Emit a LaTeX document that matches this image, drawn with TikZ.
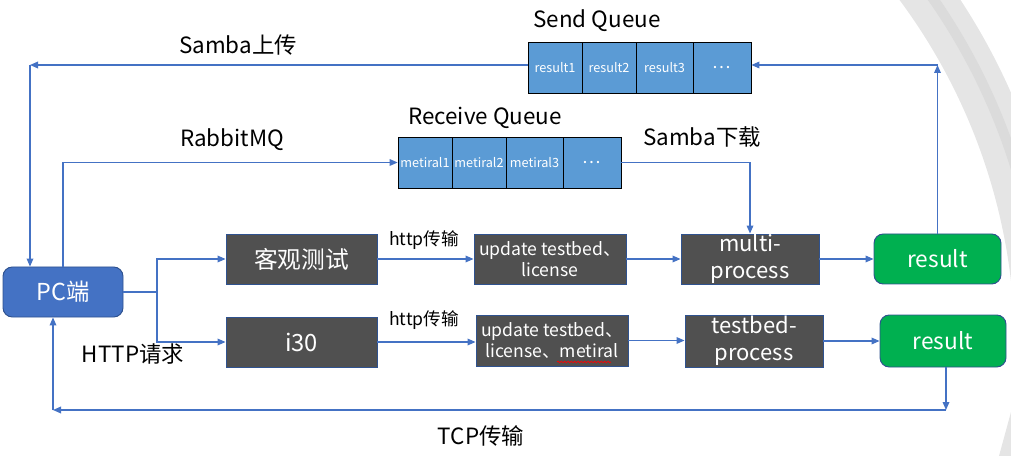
\documentclass[tikz,border=0pt]{standalone}
\usepackage{fontspec}
\setmainfont{Noto Sans CJK SC}
\usetikzlibrary{arrows.meta,decorations.pathmorphing}
\definecolor{qblue}{HTML}{5B9BD5}
\definecolor{pcblue}{HTML}{4472C4}
\definecolor{lineblue}{HTML}{4472C4}
\definecolor{edgeblue}{HTML}{2F528F}
\definecolor{darkfill}{HTML}{505050}
\definecolor{okgreen}{HTML}{00B050}
\begin{document}
\begin{tikzpicture}[x=0.75pt,y=-0.75pt,
  conn/.style={draw=lineblue, line width=0.9pt, -{Triangle[length=6pt,width=5pt]}},
  plain/.style={draw=lineblue, line width=0.9pt},
  qcell/.style={draw=black, line width=0.6pt, fill=qblue, text=white, inner sep=0pt,
    minimum height=38.25pt, font=\fontsize{9.5}{10}\selectfont},
  darkbox/.style={draw=edgeblue, line width=0.7pt, fill=darkfill, text=white, inner sep=0pt,
    align=center, minimum height=37.5pt},
  greenbox/.style={draw=edgeblue, line width=0.7pt, fill=okgreen, text=white, rounded corners=7pt,
    inner sep=0pt, minimum height=37.5pt, font=\fontsize{17}{19}\selectfont},
  lbl/.style={text=black, inner sep=0pt},
  big/.style={font=\fontsize{16.8}{18}\selectfont},
]
\useasboundingbox (0,0) rectangle (1011,456);
% background arcs
\begin{scope}
  \clip (0,0) rectangle (1011,456);
  \draw[black!10, line width=37.5pt] (427,350) circle [radius=459.75pt];
  \draw[black!14, line width=7.5pt] (427,350) circle [radius=462pt];
  \fill[black!10] (1011,412) -- (1011,456) -- (999,456) -- cycle;
\end{scope}

% queues
\node[qcell, minimum width=40.5pt] (sq1) at (555,67.5) {result1};
\node[qcell, minimum width=40.5pt] (sq2) at (609,67.5) {result2};
\node[qcell, minimum width=42.75pt] (sq3) at (664.5,67.5) {result3};
\node[qcell, minimum width=43.5pt] (sq4) at (722,67.5) {\fontsize{13}{13}\selectfont …};
\node[lbl, big] (sqt) at (597,21) {Send Queue};

\node[qcell, minimum width=40.5pt] (rq1) at (425,162.5) {metiral1};
\node[qcell, minimum width=40.5pt] (rq2) at (479,162.5) {metiral2};
\node[qcell, minimum width=42.75pt] (rq3) at (534.5,162.5) {metiral3};
\node[qcell, minimum width=43.5pt] (rq4) at (592,162.5) {\fontsize{13}{13}\selectfont …};
\node[lbl, big] (rqt) at (485,118) {Receive Queue};

% PC
\node[draw=edgeblue, line width=0.7pt, fill=pcblue, text=white, rounded corners=7pt, inner sep=0pt,
  minimum width=90pt, minimum height=37.5pt, font=\fontsize{17.5}{19}\selectfont] (pc) at (63,292) {PC端};

% boxes
\node[darkbox, minimum width=113.25pt, font=\fontsize{17.8}{19}\selectfont] (obj) at (301.5,259) {客观测试};
\node[darkbox, minimum width=113.25pt, font=\fontsize{17.8}{19}\selectfont] (i30) at (301.5,342) {i30};
\node[darkbox, minimum width=114pt, font=\fontsize{13.2}{15.5}\selectfont] (up1) at (550,259) {update testbed、\\license};
\node[darkbox, minimum width=114pt, minimum height=38.25pt, font=\fontsize{13.2}{15.5}\selectfont] (up2) at (552,340.5) {update testbed、\\license、metiral};
\node[darkbox, minimum width=103.5pt, font=\fontsize{16.5}{20.5}\selectfont] (multi) at (750,259) {multi-\\process};
\node[darkbox, minimum width=103.5pt, minimum height=39pt, font=\fontsize{16.5}{20.5}\selectfont] (tbp) at (754,341) {testbed-\\process};
\node[greenbox, minimum width=95.25pt] (res1) at (937.5,259) {result};
\node[greenbox, minimum width=94.5pt, minimum height=39pt] (res2) at (943,341) {result};

% spell-check underline
\draw[red, line width=0.5pt, decorate, decoration={snake, amplitude=0.6pt, segment length=2.5pt}] (557,362) -- (611,362);

% coordinates
\coordinate (j) at (157,292);
\coordinate (tl) at (30,65);
\coordinate (tr) at (937.5,65);
\coordinate (br) at (946,410);
\coordinate (bl) at (53,410);
\coordinate (rmq) at (63,162.5);

% connectors
\draw[plain] (pc.east) -- (j);
\draw[conn] (j) |- (obj.west);
\draw[conn] (j) |- (i30.west);
\draw[conn] (obj.east) -- (up1.west);
\draw[conn] (i30.east) -- (i30.east -| up2.west);
\draw[conn] (up1.east) -- (multi.west);
\draw[conn] (up2.east) -- (up2.east -| tbp.west);
\draw[conn] (multi.east) -- (res1.west);
\draw[conn] (tbp.east) -- (res2.west);

\draw[conn] (sq1.west |- tl) -- (tl);
\draw[conn] (tl) -- (tl |- pc.north);
\draw[conn] (pc.north) -- (rmq) -- (rq1.west);
\draw[conn] (rq4.east) -| (multi.north);
\draw[conn] (res1.north) -- (tr);
\draw[conn] (tr) -- (sq4.east |- tr);
\draw[conn] (res2.south -| br) -- (br);
\draw[conn] (br) -- (bl);
\draw[conn] (bl) -- (bl |- pc.south);

% labels
\node[lbl, big] (l1) at (238,45) {Samba上传};
\node[lbl, big] (l2) at (232,140) {RabbitMQ};
\node[lbl, big] (l3) at (702,137) {Samba下载};
\node[lbl, font=\fontsize{13.2}{15}\selectfont] (l4) at (424,240) {http传输};
\node[lbl, font=\fontsize{13.2}{15}\selectfont] (l5) at (424,320) {http传输};
\node[lbl, big] (l6) at (133,354) {HTTP请求};
\node[lbl, big] (l7) at (481,436) {TCP传输};
\end{tikzpicture}
\end{document}
